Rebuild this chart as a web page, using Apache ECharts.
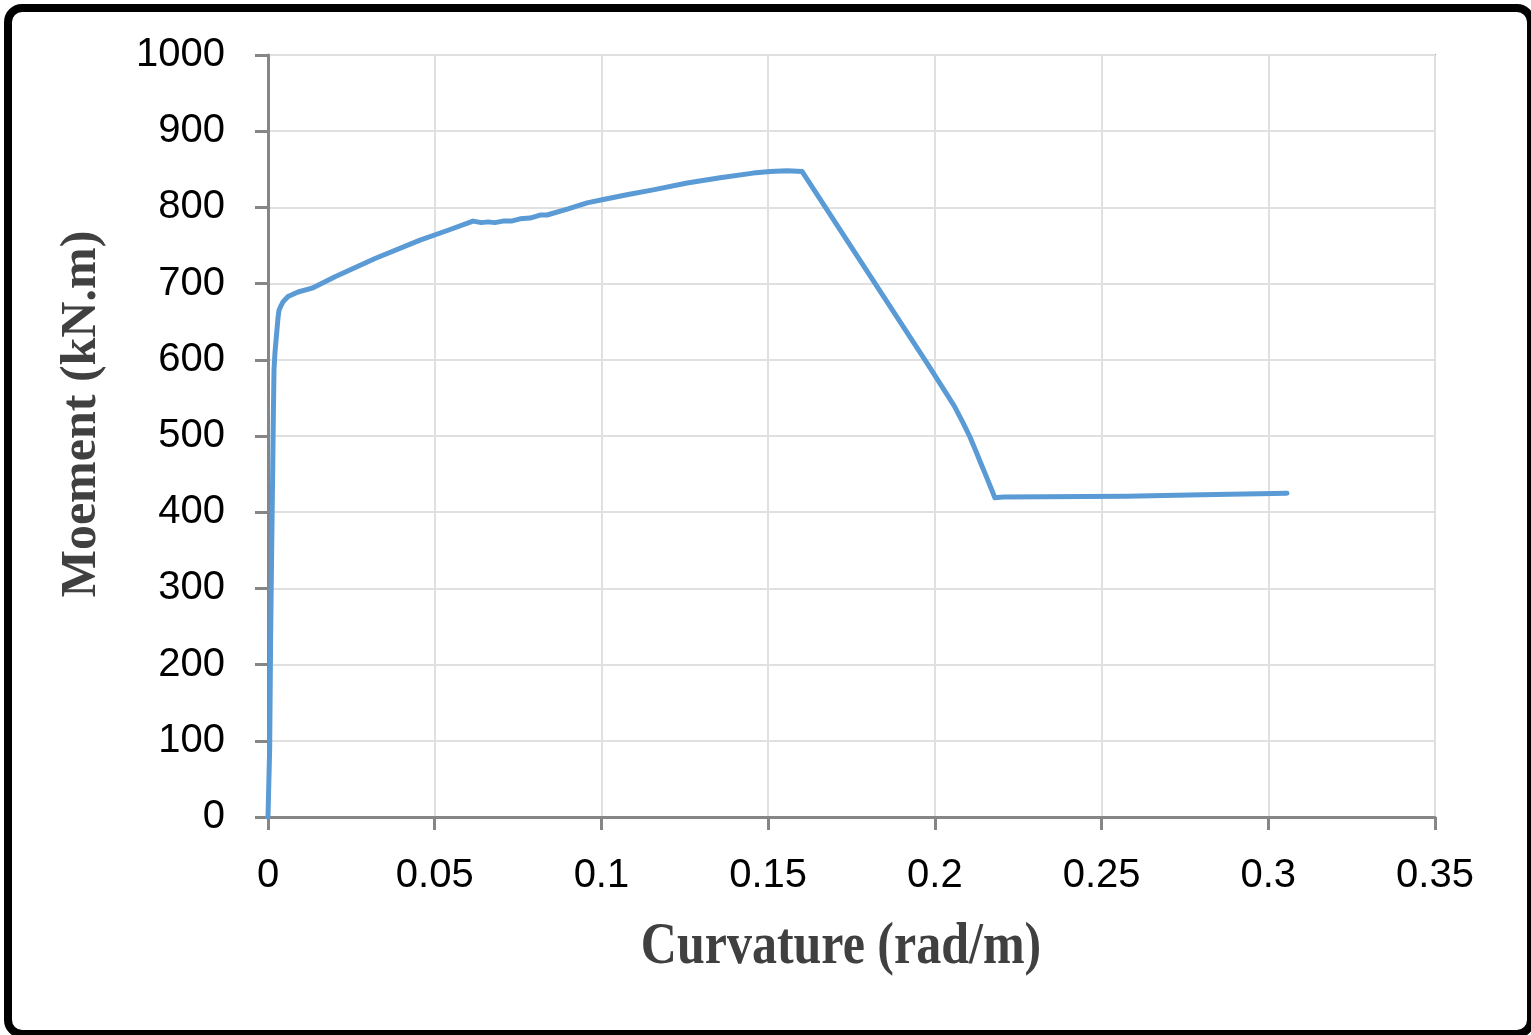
<!DOCTYPE html>
<html>
<head>
<meta charset="utf-8">
<script src="https://cdn.jsdelivr.net/npm/echarts@6/dist/echarts.min.js"></script>
<style>
html,body{margin:0;padding:0;background:#fff;}
#chart{width:1531px;height:1035px;}
</style>
</head>
<body>
<div id="chart"></div>
<script>
// Data
var curvature = [0, 0.0005, 0.0008, 0.0011, 0.0014, 0.0016, 0.0018, 0.0021, 0.0023, 0.0026, 0.0030, 0.0033, 0.0038, 0.0045, 0.0060, 0.0090, 0.0132, 0.0201, 0.0321, 0.0456, 0.0540, 0.0615, 0.0640, 0.0660, 0.0680, 0.0705, 0.0730, 0.0756, 0.0786, 0.0816, 0.0837, 0.0900, 0.0957, 0.1002, 0.1080, 0.1155, 0.1257, 0.1356, 0.1455, 0.1506, 0.1557, 0.1602, 0.1976, 0.2030, 0.2060, 0.2085, 0.2105, 0.2125, 0.2140, 0.2155, 0.2168, 0.2180, 0.2205, 0.2576, 0.2800, 0.3056];
var moment = [0, 90, 240, 350, 450, 525, 587, 610, 620, 635, 655, 665, 670, 676, 683, 689, 694, 709, 733, 757, 770, 782, 780, 781, 780, 782, 782, 785, 786, 790, 790, 798, 806, 810, 817, 823, 832, 839, 845, 847, 848, 847, 596, 559, 538, 517, 499, 478, 462, 446, 432, 419, 420, 421, 423, 425];
var xTicks = [0, 0.05, 0.1, 0.15, 0.2, 0.25, 0.3, 0.35];
var yTicks = [0, 100, 200, 300, 400, 500, 600, 700, 800, 900, 1000];
var xTitle = 'Curvature (rad/m)';
var yTitle = 'Moement (kN.m)';

var points = curvature.map(function (c, i) { return [c, moment[i]]; });

var chart = echarts.init(document.getElementById('chart'), null, {renderer: 'canvas'});
var labelFont = {fontFamily: 'Liberation Sans', fontSize: 40, color: '#000'};
chart.setOption({
  animation: false,
  backgroundColor: '#fff',
  grid: {left: 268, right: 96, top: 55, bottom: 218, show: true, borderColor: '#a6a6a6', borderWidth: 2, backgroundColor: 'transparent'},
  xAxis: {
    type: 'value', min: xTicks[0], max: xTicks[xTicks.length - 1], interval: 0.05,
    axisLine: {show: true, lineStyle: {color: '#868686', width: 3}},
    axisTick: {show: true, length: 13, lineStyle: {color: '#868686', width: 3}},
    splitLine: {show: true, lineStyle: {color: '#e0e0e0', width: 2}},
    axisLabel: Object.assign({margin: 39, formatter: function (v) { return String(+v.toFixed(2)); }}, labelFont)
  },
  yAxis: {
    type: 'value', min: yTicks[0], max: yTicks[yTicks.length - 1], interval: 100,
    axisLine: {show: true, lineStyle: {color: '#868686', width: 3}},
    axisTick: {show: true, length: 13, lineStyle: {color: '#868686', width: 3}},
    splitLine: {show: true, lineStyle: {color: '#e0e0e0', width: 2}},
    axisLabel: Object.assign({margin: 43, formatter: function (v) { return String(v); }}, labelFont)
  },
  series: [{
    type: 'line', data: points, showSymbol: false, smooth: false,
    lineStyle: {color: '#5b9bd5', width: 5, join: 'round', cap: 'round'}, itemStyle: {color: '#5b9bd5'}
  }],
  graphic: [
    {type: 'rect', left: 4, top: 4, shape: {width: 1523, height: 1026, r: 14}, style: {fill: 'none', stroke: '#000', lineWidth: 8}, z: 100},
    {type: 'text', x: 841, y: 948, scaleY: 1.18, style: {text: xTitle, font: 'bold 50px "Liberation Serif"', fill: '#404040', textAlign: 'center', textVerticalAlign: 'middle'}},
    {type: 'text', x: 82, y: 414, rotation: Math.PI / 2, style: {text: yTitle, font: 'bold 50px "Liberation Serif"', fill: '#404040', textAlign: 'center', textVerticalAlign: 'middle'}}
  ]
});
</script>
</body>
</html>
